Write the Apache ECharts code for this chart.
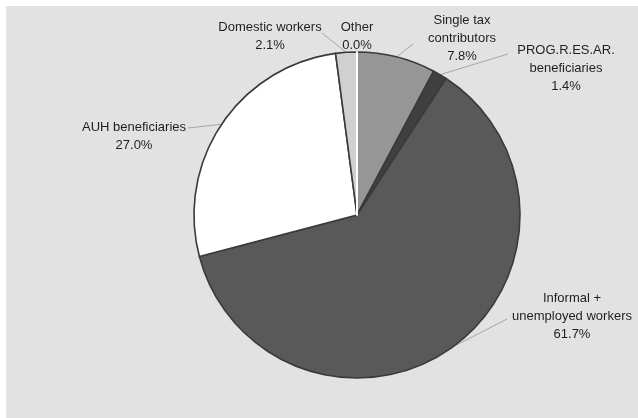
<!DOCTYPE html>
<html>
<head>
<meta charset="utf-8">
<script src="https://cdn.jsdelivr.net/npm/echarts@6/dist/echarts.min.js"></script>
<style>
  html, body { margin: 0; padding: 0; background: #ffffff; }
  #chart { width: 638px; height: 418px; }
</style>
</head>
<body>
<div id="chart"></div>
<script>
// Shares of the population groups (percent)
const categories = [
  'Single tax\ncontributors',
  'PROG.R.ES.AR.\nbeneficiaries',
  'Informal +\nunemployed workers',
  'AUH beneficiaries',
  'Domestic workers',
  'Other'
];
const shares = [7.8, 1.4, 61.7, 27.0, 2.1, 0.0];
const sliceColors = ['#969696', '#404040', '#595959', '#ffffff', '#d0d0d0', '#ffffff'];

// Where each label block sits, and the elbow of its leader line
const labelSpots = [
  { x: 462, y: 38, elbow: [413, 44] },
  { x: 566, y: 68, elbow: [508, 54] },
  { x: 572, y: 316, elbow: [507, 319] },
  { x: 134, y: 136, elbow: [188, 128] },
  { x: 270, y: 36, elbow: [322, 33] },
  { x: 357, y: 36, elbow: null }
];

const chart = echarts.init(document.getElementById('chart'), null, { renderer: 'canvas' });

const data = categories.map((name, i) => ({
  name: name,
  value: shares[i],
  itemStyle: {
    color: sliceColors[i],
    borderColor: i === 5 ? '#ffffff' : '#3a3a3a',
    borderWidth: i === 5 ? 2 : 1.6
  },
  labelLine: { show: i !== 5 }
}));

chart.setOption({
  animation: false,
  backgroundColor: '#ffffff',
  graphic: [{
    type: 'rect',
    left: 6, top: 6,
    shape: { width: 632, height: 412 },
    style: { fill: '#e2e2e2' },
    z: -10
  }],
  series: [{
    type: 'pie',
    center: [357, 215],
    radius: 163,
    startAngle: 90,
    clockwise: true,
    stillShowZeroSum: true,
    minAngle: 0,
    avoidLabelOverlap: false,
    data: data,
    label: {
      show: true,
      position: 'outside',
      color: '#1f1f1f',
      fontFamily: 'Liberation Sans, Arial, sans-serif',
      fontSize: 13,
      lineHeight: 18,
      align: 'center',
      formatter: p => p.name + '\n' + p.value.toFixed(1) + '%'
    },
    labelLine: {
      show: true,
      lineStyle: { color: '#a6a6a6', width: 1 }
    },
    labelLayout: function (params) {
      const spot = labelSpots[params.dataIndex];
      const out = {
        x: spot.x,
        y: spot.y,
        align: 'center',
        verticalAlign: 'middle'
      };
      if (spot.elbow && params.labelLinePoints) {
        const start = params.labelLinePoints[0];
        out.labelLinePoints = [start, spot.elbow, spot.elbow];
      }
      return out;
    },
    emphasis: { disabled: true }
  }]
});
</script>
</body>
</html>
